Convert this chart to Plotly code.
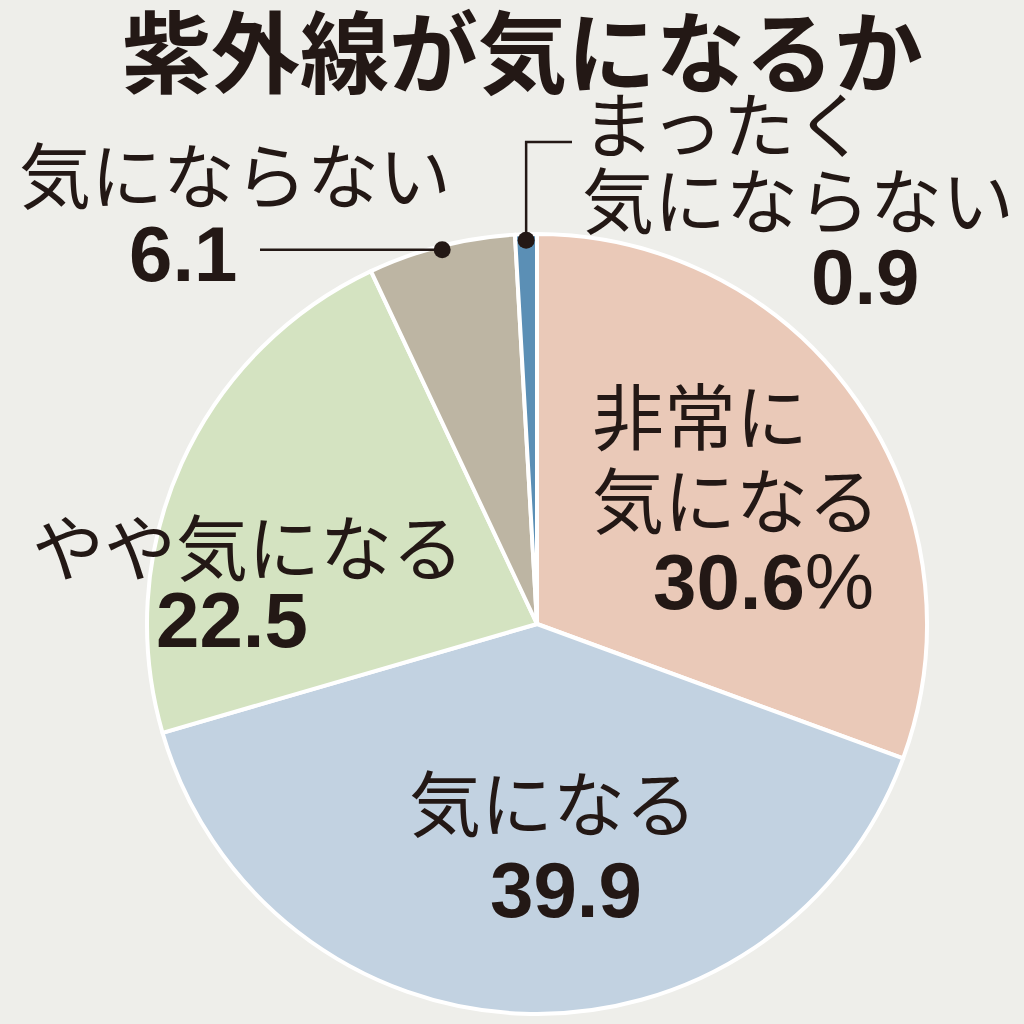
import math
import plotly.graph_objects as go

# ---- data ----
title_text = "紫外線が気になるか"
categories = ["非常に気になる", "気になる", "やや気になる", "気にならない", "まったく気にならない"]
values = [30.6, 39.9, 22.5, 6.1, 0.9]
colors = ["#EAC9B8", "#C2D2E1", "#D4E3C1", "#BDB5A3", "#5B8FB5"]
label_lines = [["非常に", "気になる"], ["気になる"], ["やや気になる"], ["気にならない"], ["まったく", "気にならない"]]
value_texts = ["30.6", "39.9", "22.5", "6.1", "0.9"]

W = H = 1024
BG = "#EEEEEA"
CX, CY, R = 537, 624, 390


def px(x):
    return x / W


def py(y):
    return 1 - y / H


fig = go.Figure()
fig.add_trace(go.Pie(
    labels=categories,
    values=values,
    sort=False,
    direction="clockwise",
    rotation=0,
    textinfo="none",
    hoverinfo="label+value",
    marker=dict(colors=colors, line=dict(color="white", width=4)),
    domain=dict(x=[px(CX - R), px(CX + R)], y=[py(CY + R), py(CY - R)]),
    showlegend=False,
))

LABEL_FONT = dict(family="Noto Sans CJK JP", size=72, color="#231815")
NUM_FONT = dict(family="Liberation Sans, Arial", size=78, color="#231815")

ann = []


def add_text(text, x, y, font, xanchor="center"):
    ann.append(dict(text=text, x=px(x), y=py(y), xref="paper", yref="paper",
                    xanchor=xanchor, yanchor="middle", showarrow=False, font=font))


# title
add_text("<b>" + title_text + "</b>", 522, 47,
         dict(family="Noto Sans CJK JP", size=89, color="#231815"))

# 非常に気になる
add_text(label_lines[0][0], 590, 412, LABEL_FONT, xanchor="left")
add_text(label_lines[0][1], 590, 496, LABEL_FONT, xanchor="left")
add_text("<b>" + value_texts[0] + "</b>%", 876, 582, NUM_FONT, xanchor="right")

# 気になる
add_text(label_lines[1][0], 553, 799, LABEL_FONT)
add_text("<b>" + value_texts[1] + "</b>", 566, 890, NUM_FONT)

# やや気になる
add_text(label_lines[2][0], 248, 543, LABEL_FONT)
add_text("<b>" + value_texts[2] + "</b>", 232, 620, NUM_FONT)

# 気にならない
add_text(label_lines[3][0], 235, 171, LABEL_FONT)
add_text("<b>" + value_texts[3] + "</b>", 183, 254, NUM_FONT)

# まったく気にならない
add_text(label_lines[4][0], 580, 120, LABEL_FONT, xanchor="left")
add_text(label_lines[4][1], 798, 196, LABEL_FONT)
add_text("<b>" + value_texts[4] + "</b>", 865, 277, NUM_FONT)

# leader dots computed from slice mid-angles
total = sum(values)
cum = 0
mids = []
for v in values:
    mids.append((cum + v / 2) / total * 2 * math.pi)
    cum += v


def edge_point(i, r):
    a = mids[i]
    return CX + r * math.sin(a), CY - r * math.cos(a)


shapes = []
LINE = dict(color="#231815", width=2.5)
DOT_R = 8.5

# 6.1 leader
dx, dy = edge_point(3, 386)
shapes.append(dict(type="line", xref="paper", yref="paper", x0=px(260), y0=py(dy), x1=px(dx), y1=py(dy), line=LINE))
shapes.append(dict(type="circle", xref="paper", yref="paper", x0=px(dx - DOT_R), x1=px(dx + DOT_R),
                   y0=py(dy + DOT_R), y1=py(dy - DOT_R), fillcolor="#231815", line=dict(width=0)))

# 0.9 leader
dx, dy = edge_point(4, 384)
shapes.append(dict(type="path", xref="paper", yref="paper",
                   path=f"M {px(dx)},{py(dy)} L {px(dx)},{py(142)} L {px(572)},{py(142)}", line=LINE))
shapes.append(dict(type="circle", xref="paper", yref="paper", x0=px(dx - DOT_R), x1=px(dx + DOT_R),
                   y0=py(dy + DOT_R), y1=py(dy - DOT_R), fillcolor="#231815", line=dict(width=0)))

fig.update_layout(
    width=W, height=H,
    margin=dict(l=0, r=0, t=0, b=0),
    paper_bgcolor=BG, plot_bgcolor=BG,
    annotations=ann, shapes=shapes,
)

fig.write_html(
    "out.html",
    config={"displayModeBar": False},
    post_script="document.body.style.margin='0';document.body.style.padding='0';"
                "document.body.style.background='" + BG + "';",
)
